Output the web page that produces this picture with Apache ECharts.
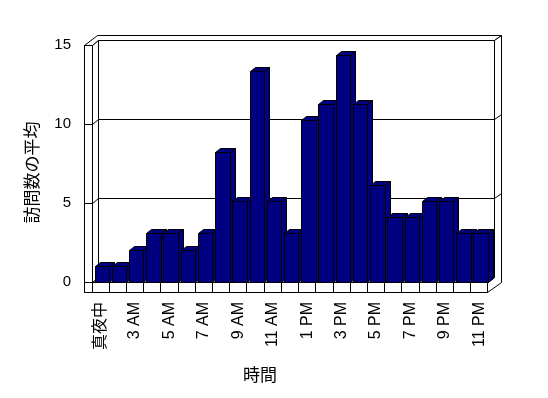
<!DOCTYPE html>
<html>
<head>
<meta charset="utf-8">
<script src="https://cdn.jsdelivr.net/npm/echarts@6/dist/echarts.min.js"></script>
<style>
html, body { margin: 0; padding: 0; background: #fff; }
#visits { width: 548px; height: 398px; }
</style>
</head>
<body>
<div id="visits"></div>
<script>
// 時間帯ごとの訪問数の平均
var hours = ['真夜中', '2 AM', '3 AM', '4 AM', '5 AM', '6 AM', '7 AM', '8 AM', '9 AM', '10 AM', '11 AM', '12 PM',
  '1 PM', '2 PM', '3 PM', '4 PM', '5 PM', '6 PM', '7 PM', '8 PM', '9 PM', '10 PM', '11 PM'];
var avgVisits = [1, 1, 2, 3.1, 3.1, 2, 3.1, 8.2, 5.1, 13.3, 5.1, 3.1,
  10.25, 11.25, 14.35, 11.25, 6.1, 4.1, 4.1, 5.1, 5.1, 3.1, 3.1];
var yTicks = [0, 5, 10, 15];

var navy = '#000080';
var depth = [6.7, -5];     // 手前の面 -> 奥の壁
var barDepth = [5, -4];
var wallWidth = 8;
var floorHeight = 10;
var font = "'Liberation Sans', 'Noto Sans CJK JP', sans-serif";

function px (v) {
  return Math.round(v - 0.5) + 0.5;
}

function renderFrame (params, api) {
  var band = api.size([1, 0])[0];
  var L = api.coord([0, 0])[0] - band / 2;
  var R = L + band * hours.length;
  var y0 = api.coord([0, 0])[1];
  var yTop = api.coord([0, yTicks[yTicks.length - 1]])[1];
  var dx = depth[0], dy = depth[1];
  var outer = L - wallWidth;
  var yb = y0 + floorHeight;
  var white = { fill: '#fff', stroke: '#000', lineWidth: 1 };
  var line = function (x1, y1, x2, y2) {
    return { type: 'line', shape: { x1: px(x1), y1: px(y1), x2: px(x2), y2: px(y2) }, style: { stroke: '#000', lineWidth: 1 } };
  };
  var poly = function (pts) {
    return { type: 'polygon', shape: { points: pts.map(function (p) { return [px(p[0]), px(p[1])]; }) }, style: white };
  };
  var kids = [];
  // 奥の壁
  kids.push(poly([[L + dx, yTop + dy], [R + dx, yTop + dy], [R + dx, y0 + dy], [L + dx, y0 + dy]]));
  yTicks.forEach(function (v) {
    var y = api.coord([0, v])[1];
    if (v > 0 && v < yTicks[yTicks.length - 1]) kids.push(line(L + dx, y + dy, R + dx, y + dy));
  });
  // 壁の厚み（上・右）
  kids.push(poly([[outer, yTop], [outer + 2 * dx, yTop + 2 * dy], [R + 2 * dx, yTop + 2 * dy], [R + dx, yTop + dy], [L + dx, yTop + dy], [L, yTop]]));
  kids.push(poly([[R + dx, yTop + dy], [R + 2 * dx, yTop + 2 * dy], [R + 2 * dx, yb + 2 * dy], [R, yb], [R, y0], [R + dx, y0 + dy]]));
  // 床
  kids.push(poly([[L, y0], [R, y0], [R + dx, y0 + dy], [L + dx, y0 + dy]]));
  // 左の壁の内側
  kids.push(poly([[L, yTop], [L + dx, yTop + dy], [L + dx, y0 + dy], [L, y0]]));
  // 床の前面と区切り
  kids.push(poly([[outer, y0], [R, y0], [R, yb], [outer, yb]]));
  for (var k = 1; k < hours.length; k++) {
    kids.push(line(L + band * k, y0, L + band * k, yb));
  }
  // 左の壁の前面
  kids.push(poly([[outer, yTop], [L, yTop], [L, yb], [outer, yb]]));
  yTicks.forEach(function (v) {
    var y = api.coord([0, v])[1];
    kids.push(line(outer, y, L, y));
    if (v > 0 && v < yTicks[yTicks.length - 1]) {
      kids.push(line(L, y, L + dx, y + dy));
      kids.push(line(R + dx, y + dy, R + 2 * dx, y + 2 * dy));
    }
  });
  return { type: 'group', children: kids };
}

function renderBar (params, api) {
  var band = api.size([1, 0])[0];
  var base = api.coord([api.value(0), 0]);
  var top = api.coord([api.value(0), api.value(1)]);
  var x0 = px(base[0] - band * 0.32), x1 = px(base[0] + band * 0.52);
  var yb = px(base[1]), yt = px(top[1]);
  var bx = barDepth[0], by = barDepth[1];
  var style = { fill: navy, stroke: '#000', lineWidth: 1 };
  return {
    type: 'group',
    children: [
      { type: 'polygon', shape: { points: [[x1, yt], [x1 + bx, yt + by], [x1 + bx, yb + by], [x1, yb]] }, style: style },
      { type: 'polygon', shape: { points: [[x0, yt], [x0 + bx, yt + by], [x1 + bx, yt + by], [x1, yt]] }, style: style },
      { type: 'rect', shape: { x: x0, y: yt, width: x1 - x0, height: yb - yt }, style: style }
    ]
  };
}

var myChart = echarts.init(document.getElementById('visits'));
myChart.setOption({
  backgroundColor: '#fff',
  animation: false,
  grid: { left: 92, right: 60, top: 45, bottom: 116 },
  xAxis: {
    type: 'category',
    data: hours,
    boundaryGap: true,
    axisLine: { show: false },
    axisTick: { show: false },
    axisLabel: { interval: 1, rotate: 90, margin: 20, fontSize: 16, color: '#000', fontFamily: font },
    name: '時間',
    nameLocation: 'middle',
    nameGap: 86,
    nameTextStyle: { fontSize: 17, color: '#000', fontFamily: font, padding: [0, 60, 0, 0] }
  },
  yAxis: {
    type: 'value',
    min: 0,
    max: 15,
    interval: 5,
    axisLine: { show: false },
    axisTick: { show: false },
    splitLine: { show: false },
    axisLabel: { margin: 21, fontSize: 15, color: '#000', fontFamily: font },
    name: '訪問数の平均',
    nameLocation: 'middle',
    nameGap: 50,
    nameTextStyle: { fontSize: 17, color: '#000', fontFamily: font, padding: [0, 18, 0, 0] }
  },
  series: [
    {
      name: 'frame',
      type: 'custom',
      silent: true,
      z: 1,
      renderItem: renderFrame,
      data: [[0, 0]]
    },
    {
      name: '訪問数の平均',
      type: 'custom',
      z: 2,
      renderItem: renderBar,
      encode: { x: 0, y: 1 },
      data: avgVisits.map(function (v, i) { return [i, v]; })
    }
  ]
});
</script>
</body>
</html>
